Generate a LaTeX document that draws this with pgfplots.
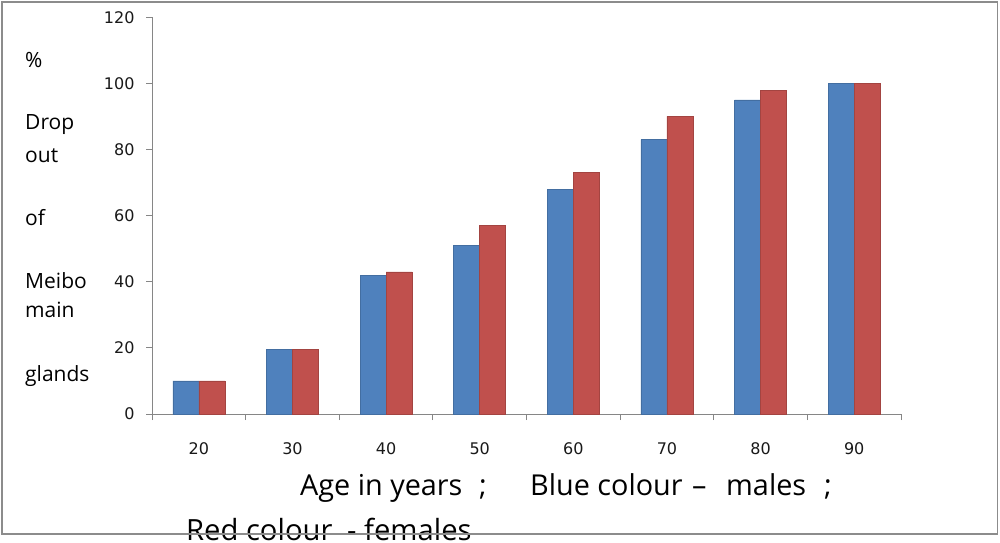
\documentclass[border=0pt]{standalone}
\usepackage{pgfplots}
\pgfplotsset{compat=1.18}
\usepackage{fontspec}
\setmainfont{Open Sans}
\newfontfamily\dejavu{DejaVu Sans}
\definecolor{mblue}{HTML}{4F81BD}
\definecolor{mred}{HTML}{C0504D}
\definecolor{axisgray}{HTML}{868686}
\definecolor{framegray}{HTML}{8C8C8C}
\begin{document}
\begin{tikzpicture}
\useasboundingbox (0,0) rectangle (1000pt,-542pt);
\fill[white] (0,0) rectangle (1000pt,-542pt);
\draw[framegray, line width=1.5pt] (2pt,-2pt) rectangle (997.5pt,-534pt);
\begin{axis}[
  at={(152pt,-414pt)}, anchor=south west,
  scale only axis, width=749pt, height=396.7pt,
  ybar=0pt, bar width=26pt,
  xmin=-0.5, xmax=7.5, ymin=0, ymax=120,
  enlargelimits=false,
  axis lines=left,
  axis line style={draw=axisgray, line width=1pt, -},
  ytick={0,20,...,120},
  xtick={0,...,7}, xticklabels={20,30,40,50,60,70,80,90},
  minor xtick={-0.5,0.5,...,7.5},
  tick align=outside, major tick length=6pt, minor tick length=6pt,
  tick style={draw=axisgray, line width=1pt},
  major x tick style={draw=none},
  /pgf/number format/assume math mode=true,
  ticklabel style={font=\dejavu\fontsize{16}{18}\selectfont, text=black!90},
  yticklabel style={xshift=-8pt},
  xticklabel style={yshift=-19pt},
]
\addplot[fill=mblue, draw=mblue!85!black, line width=0.4pt] coordinates {(0,10) (1,19.5) (2,42) (3,51) (4,68) (5,83) (6,95) (7,100)};
\addplot[fill=mred, draw=mred!85!black, line width=0.4pt] coordinates {(0,10) (1,19.5) (2,43) (3,57) (4,73) (5,90) (6,98) (7,100)};
\end{axis}
\begin{scope}[every node/.style={anchor=base west, inner sep=0pt, font=\fontsize{21}{24}\selectfont}]
\node at (25pt,-67pt) {\%};
\node at (25pt,-129.5pt) {Drop};
\node at (25pt,-162pt) {out};
\node at (25pt,-225pt) {of};
\node at (25pt,-288pt) {Meibo};
\node at (25pt,-317pt) {main};
\node at (25pt,-381pt) {glands};
\end{scope}
\begin{scope}[every node/.style={anchor=base west, inner sep=0pt, font=\fontsize{28.8}{32}\selectfont}]
\node at (300pt,-495pt) {Age in years};
\node at (479pt,-495pt) {;};
\node at (530pt,-495pt) {Blue colour};
\node at (692pt,-495pt) {–};
\node at (726pt,-495pt) {males};
\node at (824pt,-495pt) {;};
\end{scope}
\begin{scope}[every node/.style={anchor=base west, inner sep=0pt, font=\fontsize{29.2}{33}\selectfont}]
\node at (186pt,-540pt) {Red colour};
\node at (347pt,-540pt) {-};
\node at (364pt,-540pt) {females};
\end{scope}
\draw[framegray, line width=1.5pt] (2pt,-534pt) -- (997.5pt,-534pt);
\end{tikzpicture}
\end{document}
